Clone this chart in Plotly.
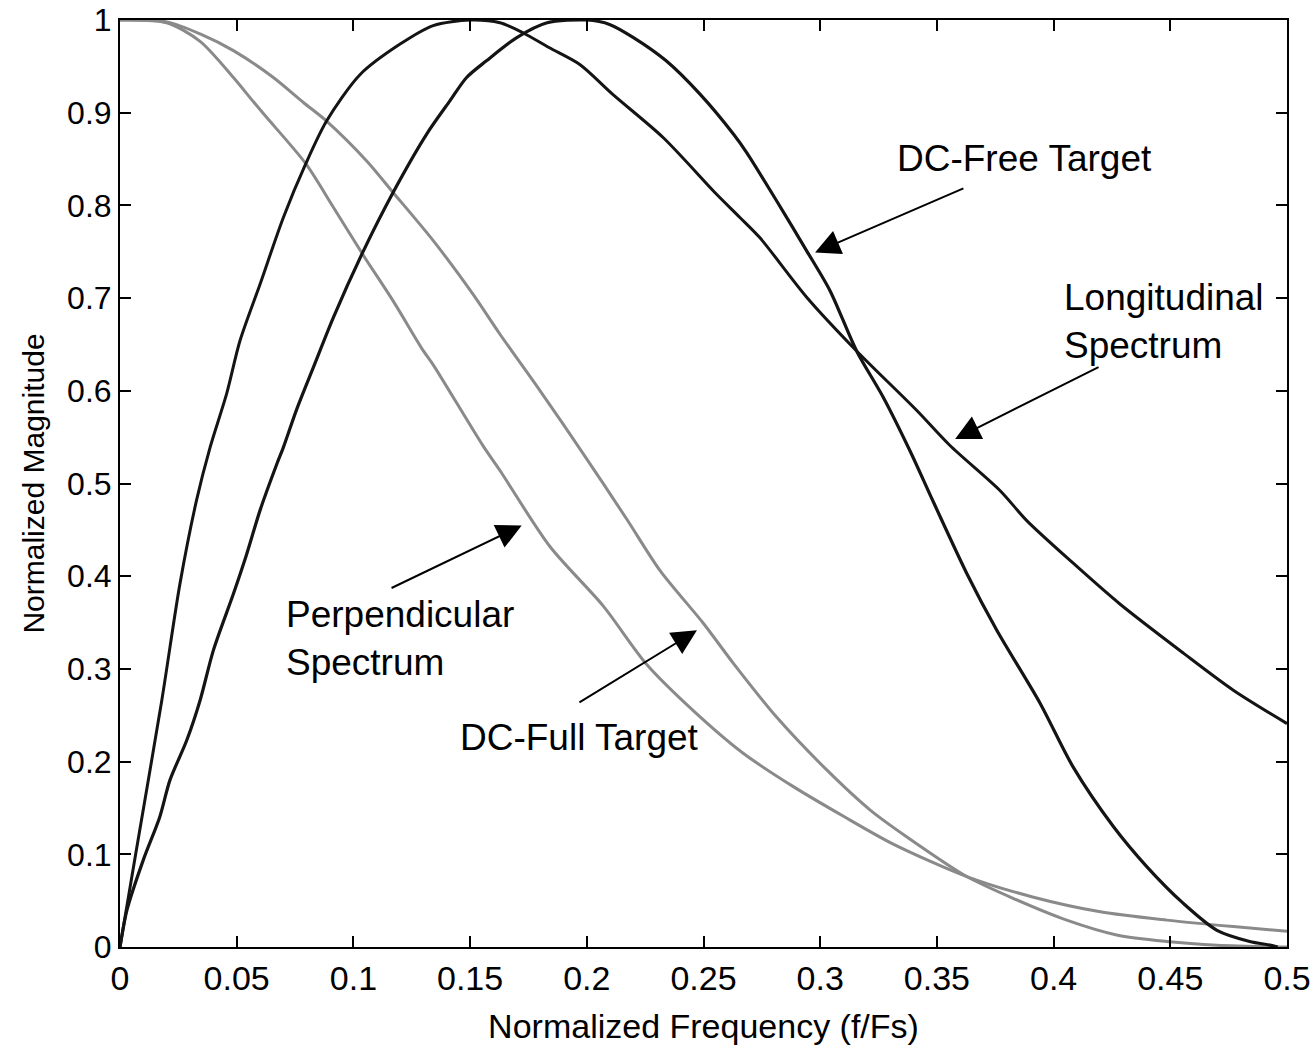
import plotly.graph_objects as go

# values (normalized frequency f/Fs, normalized magnitude)
long_f = [0, 0.0067, 0.0179, 0.0257, 0.0328, 0.0386, 0.0457, 0.0514, 0.06, 0.07, 0.0796,
          0.0885, 0.1028, 0.12, 0.1342, 0.15, 0.1628, 0.1728, 0.184, 0.197, 0.211, 0.2328,
          0.2556, 0.2656, 0.2742, 0.2942, 0.3156, 0.3413, 0.3556, 0.377, 0.3885, 0.4084,
          0.4284, 0.4556, 0.477, 0.5]
long_mag = [0, 0.1, 0.266, 0.392, 0.482, 0.539, 0.597, 0.654, 0.715, 0.787, 0.845,
            0.891, 0.941, 0.974, 0.994, 1.0, 0.997, 0.986, 0.970, 0.952, 0.92, 0.873,
            0.812, 0.787, 0.765, 0.701, 0.643, 0.579, 0.541, 0.4925, 0.46, 0.414,
            0.37, 0.317, 0.277, 0.241]

free_f = [0, 0.003, 0.010, 0.017, 0.0214, 0.0286, 0.0343, 0.04, 0.0486, 0.0543, 0.06, 0.0672,
          0.07, 0.0757, 0.0828, 0.0914, 0.1043, 0.117, 0.1314, 0.1414, 0.1485, 0.157, 0.170,
          0.183, 0.2, 0.21, 0.22, 0.234, 0.2485, 0.2628, 0.2685, 0.2813, 0.2942, 0.3042,
          0.3156, 0.327, 0.3385, 0.3485, 0.3628, 0.3756, 0.3942, 0.4084, 0.4256, 0.44,
          0.4556, 0.47, 0.484, 0.4927, 0.496]
free_mag = [0, 0.04, 0.094, 0.14, 0.18, 0.223, 0.266, 0.32, 0.381, 0.424, 0.471, 0.521,
            0.539, 0.58, 0.625, 0.679, 0.751, 0.814, 0.877, 0.913, 0.938, 0.956, 0.981,
            0.997, 1.0, 0.995, 0.981, 0.956, 0.92, 0.877, 0.857, 0.805, 0.751, 0.708,
            0.643, 0.593, 0.535, 0.48, 0.403, 0.342, 0.263, 0.194, 0.130, 0.0865,
            0.047, 0.018, 0.006, 0.002, 0.0]

perp_f = [0, 0.02, 0.0343, 0.0486, 0.0571, 0.0628, 0.0796, 0.0914, 0.1043, 0.117, 0.13,
          0.1342, 0.1557, 0.1628, 0.1842, 0.207, 0.2256, 0.2456, 0.267, 0.2885, 0.31,
          0.3313, 0.3628, 0.391, 0.42, 0.4485, 0.477, 0.5]
perp_mag = [1.0, 0.997, 0.977, 0.938, 0.912, 0.895, 0.845, 0.798, 0.746, 0.697, 0.643,
            0.628, 0.54, 0.514, 0.432, 0.368, 0.305, 0.255, 0.209, 0.173, 0.141,
            0.111, 0.076, 0.054, 0.038, 0.029, 0.022, 0.017]

full_f = [0, 0.02, 0.0343, 0.0486, 0.0657, 0.0786, 0.0885, 0.1057, 0.117, 0.1342, 0.1513,
          0.1628, 0.18, 0.1985, 0.217, 0.2314, 0.25, 0.2628, 0.2813, 0.3028, 0.3213, 0.337,
          0.3628, 0.384, 0.4056, 0.427, 0.4485, 0.47, 0.5]
full_mag = [1.0, 0.998, 0.985, 0.967, 0.938, 0.911, 0.891, 0.848, 0.814, 0.762, 0.704,
            0.661, 0.600, 0.532, 0.462, 0.406, 0.349, 0.306, 0.248, 0.191, 0.148, 0.119,
            0.076, 0.051, 0.029, 0.013, 0.006, 0.002, 0.0]

x_ticks = [0, 0.05, 0.1, 0.15, 0.2, 0.25, 0.3, 0.35, 0.4, 0.45, 0.5]
x_labels = ["0", "0.05", "0.1", "0.15", "0.2", "0.25", "0.3", "0.35", "0.4", "0.45", "0.5"]
y_ticks = [0, 0.1, 0.2, 0.3, 0.4, 0.5, 0.6, 0.7, 0.8, 0.9, 1]
y_labels = ["0", "0.1", "0.2", "0.3", "0.4", "0.5", "0.6", "0.7", "0.8", "0.9", "1"]

FONT = "Arial, Liberation Sans, sans-serif"
DARK = "#141414"
GREY = "#8a8a8a"

fig = go.Figure()
fig.add_trace(go.Scatter(x=perp_f, y=perp_mag, mode="lines", name="Perpendicular Spectrum",
                         line=dict(color=GREY, width=3, shape="spline", smoothing=0.8)))
fig.add_trace(go.Scatter(x=full_f, y=full_mag, mode="lines", name="DC-Full Target",
                         line=dict(color=GREY, width=3, shape="spline", smoothing=0.8)))
fig.add_trace(go.Scatter(x=long_f, y=long_mag, mode="lines", name="Longitudinal Spectrum",
                         line=dict(color=DARK, width=3, shape="spline", smoothing=0.8)))
fig.add_trace(go.Scatter(x=free_f, y=free_mag, mode="lines", name="DC-Free Target",
                         line=dict(color=DARK, width=3.2, shape="spline", smoothing=0.8)))

# arrows (head at x,y ; tail at ax,ay)
arrows = [
    (0.2978, 0.7492, 0.362, 0.819),    # DC-Free Target
    (0.3578, 0.548, 0.4199, 0.6264),   # Longitudinal Spectrum
    (0.1721, 0.4547, 0.1157, 0.3865),  # Perpendicular Spectrum
    (0.2472, 0.3416, 0.1962, 0.263),   # DC-Full Target
]
for hx, hy, tx, ty in arrows:
    fig.add_annotation(x=hx, y=hy, ax=tx, ay=ty, xref="x", yref="y", axref="x", ayref="y",
                       text="", showarrow=True, arrowhead=2, arrowsize=2.5, arrowwidth=2,
                       arrowcolor="black")

labels = [
    ("DC-Free Target", 0.3877, 0.851, "center"),
    ("Longitudinal<br>Spectrum", 0.4036, 0.6746, "left"),
    ("Perpendicular<br>Spectrum", 0.0704, 0.333, "left"),
    ("DC-Full Target", 0.1967, 0.2257, "center"),
]
for txt, lx, ly, anchor in labels:
    fig.add_annotation(x=lx, y=ly, xref="x", yref="y", text=txt, showarrow=False,
                       xanchor=anchor, yanchor="middle", align="left",
                       font=dict(family=FONT, size=37, color="black"))

fig.update_layout(
    width=1316, height=1049,
    margin=dict(l=120, r=29, t=20, b=102),
    plot_bgcolor="white", paper_bgcolor="white",
    showlegend=False,
    font=dict(family=FONT, color="black"),
)
fig.update_xaxes(range=[0, 0.5], tickvals=x_ticks, ticktext=x_labels, automargin=False,
                 ticks="inside", ticklen=11, tickwidth=1.5, tickcolor="black",
                 showline=True, linecolor="black", linewidth=2, mirror="ticks",
                 showgrid=False, zeroline=False, tickfont=dict(size=34),
                 ticklabeloverflow="allow",
                 title=dict(text="Normalized Frequency (f/Fs)", font=dict(size=34), standoff=18))
fig.update_yaxes(range=[0, 1], tickvals=y_ticks, ticktext=y_labels, automargin=False,
                 ticks="inside", ticklen=11, tickwidth=1.5, tickcolor="black",
                 showline=True, linecolor="black", linewidth=2, mirror="ticks",
                 showgrid=False, zeroline=False, tickfont=dict(size=32),
                 ticklabeloverflow="allow",
                 title=dict(text="Normalized Magnitude", font=dict(size=30), standoff=14))

# drop the default 8px page margin so the figure sits at the window's corner; no modebar
fig.write_html("out.html", config={"displayModeBar": False},
               post_script="document.body.style.margin='0';")
